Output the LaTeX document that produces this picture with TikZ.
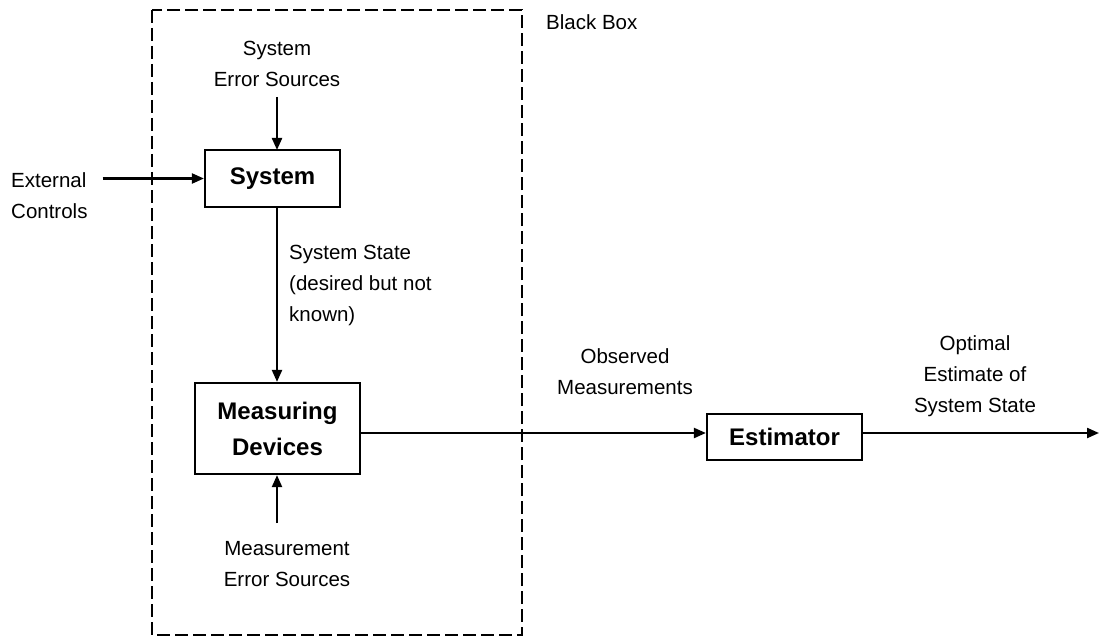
\documentclass[tikz,border=0pt]{standalone}
\usepackage{fontspec}
\setmainfont{Liberation Sans}
\usetikzlibrary{arrows.meta}
\begin{document}
\begin{tikzpicture}[x=1pt,y=-1pt,
  lbl/.style={align=center,inner sep=0pt,font=\fontsize{20.5}{31}\selectfont},
  blk/.style={draw,line width=2.2pt,inner sep=0pt,align=center,font=\fontsize{24}{36}\bfseries\selectfont},
  arr/.style={line width=2.2pt,-{Triangle[length=12pt,width=10pt]}},
  dashbox/.style={line width=2.2pt,dash pattern=on 13pt off 5pt}]
\useasboundingbox (0,0) rectangle (1099,639);
\draw[dashbox] (152,10) rectangle (522,635);
\node[lbl,anchor=west] (bb) at (546,22) {Black Box};
\node[lbl] (errsrc) at (277,63.5) {System\\Error Sources};
\node[blk,minimum width=135pt,minimum height=57pt] (sys) at (272.5,178.5) {System};
\node[lbl,align=left,anchor=west] (ext) at (11,196) {External\\Controls};
\node[lbl,align=left,anchor=west] (state) at (289,285) {System State\\(desired but not\\known)};
\node[blk,minimum width=165pt,minimum height=91pt] (meas) at (277.5,428.5) {Measuring\\Devices};
\node[lbl] (merr) at (287,564) {Measurement\\Error Sources};
\node[blk,minimum width=155pt,minimum height=46pt] (est) at (784.5,437) {Estimator};
\node[lbl] (obs) at (625,372) {Observed\\Measurements};
\node[lbl] (opt) at (975,376) {Optimal\\Estimate of\\System State};
\coordinate (out) at (1099,433);
\draw[arr] (277,97) -- (277,150);
\draw[arr] ([xshift=15pt]ext.east |- sys.west) -- (sys.west);
\draw[arr] (sys.south -| 277,0) -- (meas.north -| 277,0);
\draw[arr] (277,523) -- (meas.south -| 277,0);
\draw[arr] (meas.east |- 0,433) -- (est.west |- 0,433);
\draw[arr] (est.east |- out) -- (out);
\end{tikzpicture}
\end{document}
